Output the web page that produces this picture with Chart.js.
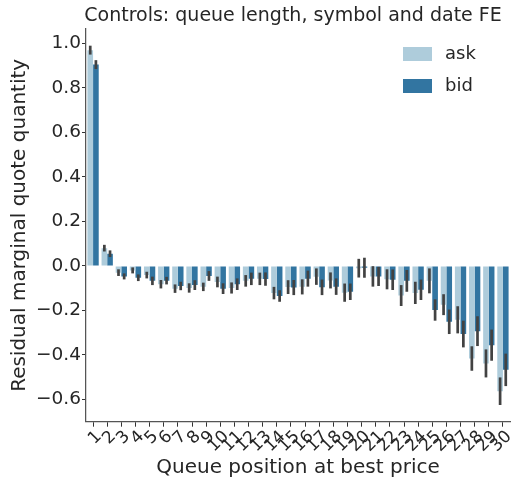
<!DOCTYPE html>
<html>
<head>
<meta charset="utf-8">
<script src="https://cdn.jsdelivr.net/npm/chart.js@4"></script>
<style>
html,body{margin:0;padding:0;background:#fff;}
#wrap{width:519px;height:482px;}
</style>
</head>
<body>
<div id="wrap"><canvas id="c" width="519" height="482"></canvas></div>
<script>
const categories = ['1','2','3','4','5','6','7','8','9','10','11','12','13','14','15','16','17','18','19','20','21','22','23','24','25','26','27','28','29','30'];
const askValues = [0.97, 0.08, -0.03, -0.02, -0.041, -0.082, -0.102, -0.099, -0.094, -0.072, -0.099, -0.067, -0.058, -0.122, -0.095, -0.094, -0.048, -0.065, -0.12, -0.01, -0.047, -0.06, -0.133, -0.121, -0.067, -0.174, -0.242, -0.416, -0.438, -0.563];
const bidValues = [0.905, 0.055, -0.047, -0.053, -0.067, -0.066, -0.09, -0.086, -0.045, -0.102, -0.082, -0.058, -0.059, -0.135, -0.097, -0.057, -0.096, -0.093, -0.116, -0.008, -0.047, -0.062, -0.067, -0.107, -0.198, -0.251, -0.306, -0.293, -0.356, -0.467];
const askErr = [0.02, 0.015, 0.015, 0.0135, 0.015, 0.019, 0.019, 0.021, 0.019, 0.024, 0.025, 0.026, 0.028, 0.028, 0.031, 0.034, 0.037, 0.036, 0.041, 0.042, 0.046, 0.045, 0.047, 0.05, 0.056, 0.047, 0.061, 0.055, 0.063, 0.062];
const bidErr = [0.02, 0.015, 0.0135, 0.015, 0.019, 0.017, 0.019, 0.022, 0.022, 0.024, 0.026, 0.028, 0.03, 0.026, 0.034, 0.036, 0.035, 0.037, 0.037, 0.045, 0.043, 0.046, 0.049, 0.046, 0.048, 0.055, 0.06, 0.067, 0.07, 0.073];
const yTicks = [-0.6, -0.4, -0.2, 0.0, 0.2, 0.4, 0.6, 0.8, 1.0];
const seriesNames = ['ask', 'bid'];
const seriesColors = ['#aeccdb', '#3275a1'];
const titleText = 'Controls: queue length, symbol and date FE';
const xLabel = 'Queue position at best price';
const yLabel = 'Residual marginal quote quantity';

const FONT = "'DejaVu Sans', sans-serif";
const TEXT = '#262626';
const errs = [askErr, bidErr];

const errorBars = {
  id: 'errorBars',
  afterDatasetsDraw(chart) {
    const ctx = chart.ctx;
    const ys = chart.scales.y;
    ctx.save();
    ctx.strokeStyle = '#424242';
    ctx.lineWidth = 2.7;
    ctx.lineCap = 'butt';
    chart.data.datasets.forEach((ds, di) => {
      const meta = chart.getDatasetMeta(di);
      meta.data.forEach((bar, i) => {
        const v = ds.data[i], e = errs[di][i];
        ctx.beginPath();
        ctx.moveTo(bar.x, ys.getPixelForValue(v - e));
        ctx.lineTo(bar.x, ys.getPixelForValue(v + e));
        ctx.stroke();
      });
    });
    ctx.restore();
  }
};

const decorations = {
  id: 'decorations',
  afterDraw(chart) {
    const ctx = chart.ctx;
    const a = chart.chartArea;
    ctx.save();
    ctx.fillStyle = TEXT;
    ctx.font = "19px " + FONT;
    ctx.textAlign = 'center';
    ctx.textBaseline = 'middle';
    ctx.fillText(titleText, (a.left + a.right) / 2 - 5, 16);
    // legend
    ctx.font = "18px " + FONT;
    ctx.textAlign = 'left';
    seriesNames.forEach((n, i) => {
      const y = 54 + i * 32;
      ctx.fillStyle = seriesColors[i];
      ctx.fillRect(403, y - 7, 29, 14);
      ctx.fillStyle = TEXT;
      ctx.fillText(n, 445, y);
    });
    ctx.restore();
  }
};

new Chart(document.getElementById('c'), {
  type: 'bar',
  data: {
    labels: categories,
    datasets: [
      { label: seriesNames[0], data: askValues, backgroundColor: seriesColors[0], borderWidth: 0, categoryPercentage: 0.8, barPercentage: 1.0 },
      { label: seriesNames[1], data: bidValues, backgroundColor: seriesColors[1], borderWidth: 0, categoryPercentage: 0.8, barPercentage: 1.0 }
    ]
  },
  options: {
    responsive: false,
    animation: false,
    layout: { padding: { top: 29, right: 9, left: 0, bottom: 0 } },
    plugins: { legend: { display: false }, title: { display: false }, tooltip: { enabled: false } },
    scales: {
      x: {
        grid: { display: true, drawOnChartArea: false, drawTicks: true, tickLength: 5, offset: false, color: '#333', lineWidth: 1 },
        border: { display: true, color: '#555', width: 1.25 },
        ticks: { color: TEXT, font: { family: FONT, size: 17 }, minRotation: 45, maxRotation: 45, autoSkip: false, padding: 0, labelOffset: 6 },
        title: { display: true, text: xLabel, color: TEXT, font: { family: FONT, size: 20 }, padding: { top: 0, bottom: 2 } },
        afterFit(s) { s.height = 482 - 421.7; }
      },
      y: {
        min: -0.70, max: 1.065,
        afterBuildTicks(s) { s.ticks = yTicks.map(v => ({ value: v })); },
        grid: { display: true, drawOnChartArea: false, drawTicks: true, tickLength: 4, color: '#333', lineWidth: 1 },
        border: { display: true, color: '#555', width: 1.25 },
        ticks: { color: TEXT, font: { family: FONT, size: 18.5 }, padding: 1, callback: v => v.toFixed(1).replace('-', '\u2212') },
        title: { display: true, text: yLabel, color: TEXT, font: { family: FONT, size: 20 }, padding: { top: 8, bottom: 0 } },
        afterFit(s) { s.width = 86; }
      }
    }
  },
  plugins: [errorBars, decorations]
});
</script>
</body>
</html>
